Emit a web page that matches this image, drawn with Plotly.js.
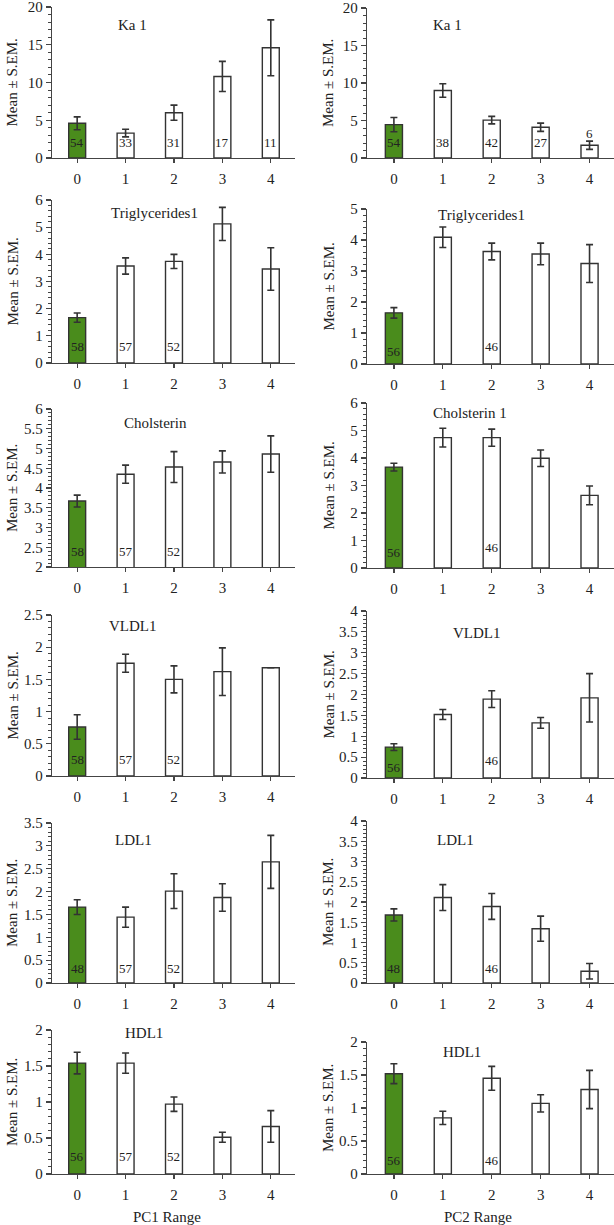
<!DOCTYPE html>
<html>
<head>
<meta charset="utf-8">
<script src="https://cdn.plot.ly/plotly-3.0.1.min.js"></script>
<style>html,body{margin:0;padding:0;background:#fff}#chart{width:614px;height:1225px}</style>
</head>
<body>
<div id="chart"></div>
<script>
// ---------- DATA ----------
const categories = [0, 1, 2, 3, 4];
const tickLabels = ["0", "1", "2", "3", "4"];
const xTitles = ["PC1 Range", "PC2 Range"];
const yTitle = "Mean ± S.EM.";

const titlesPC1 = ["Ka 1", "Triglycerides1", "Cholsterin", "VLDL1", "LDL1", "HDL1"];
const titlesPC2 = ["Ka 1", "Triglycerides1", "Cholsterin 1", "VLDL1", "LDL1", "HDL1"];

// PC1 column
const ka1PC1Mean = [4.6, 3.3, 6.0, 10.8, 14.6];
const ka1PC1Sem  = [0.85, 0.5, 1.0, 2.0, 3.7];
const ka1PC1N    = [54, 33, 31, 17, 11];

const trigPC1Mean = [1.67, 3.57, 3.74, 5.12, 3.46];
const trigPC1Sem  = [0.17, 0.3, 0.26, 0.61, 0.78];
const trigPC1N    = [58, 57, 52, null, null];

const cholPC1Mean = [3.67, 4.35, 4.53, 4.66, 4.86];
const cholPC1Sem  = [0.15, 0.23, 0.39, 0.28, 0.46];
const cholPC1N    = [58, 57, 52, null, null];

const vldlPC1Mean = [0.76, 1.75, 1.5, 1.62, 1.68];
const vldlPC1Sem  = [0.19, 0.14, 0.21, 0.37, null];
const vldlPC1N    = [58, 57, 52, null, null];

const ldlPC1Mean = [1.66, 1.44, 2.01, 1.87, 2.65];
const ldlPC1Sem  = [0.16, 0.22, 0.38, 0.3, 0.58];
const ldlPC1N    = [48, 57, 52, null, null];

const hdlPC1Mean = [1.54, 1.54, 0.97, 0.51, 0.66];
const hdlPC1Sem  = [0.15, 0.14, 0.1, 0.07, 0.22];
const hdlPC1N    = [56, 57, 52, null, null];

// PC2 column
const ka1PC2Mean = [4.45, 9.0, 5.05, 4.1, 1.7];
const ka1PC2Sem  = [0.95, 0.9, 0.5, 0.55, 0.55];
const ka1PC2N    = [54, 38, 42, 27, 6];

const trigPC2Mean = [1.65, 4.09, 3.63, 3.55, 3.24];
const trigPC2Sem  = [0.17, 0.33, 0.27, 0.35, 0.61];
const trigPC2N    = [56, null, 46, null, null];

const cholPC2Mean = [3.67, 4.74, 4.74, 3.99, 2.64];
const cholPC2Sem  = [0.14, 0.34, 0.31, 0.3, 0.34];
const cholPC2N    = [56, null, 46, null, null];

const vldlPC2Mean = [0.74, 1.52, 1.89, 1.32, 1.92];
const vldlPC2Sem  = [0.08, 0.12, 0.2, 0.13, 0.58];
const vldlPC2N    = [56, null, 46, null, null];

const ldlPC2Mean = [1.68, 2.11, 1.89, 1.34, 0.29];
const ldlPC2Sem  = [0.15, 0.32, 0.32, 0.31, 0.19];
const ldlPC2N    = [48, null, 46, null, null];

const hdlPC2Mean = [1.52, 0.85, 1.45, 1.07, 1.28];
const hdlPC2Sem  = [0.15, 0.1, 0.18, 0.13, 0.29];
const hdlPC2N    = [56, null, 46, null, null];

// ---------- LAYOUT CONFIG ----------
const W = 614, H = 1225;
const FONT = "'Liberation Serif', 'DejaVu Serif', serif";
const TXT = "#222";
const GREEN = "#4a8c1c";
const EDGE = "#333";

const colX = [[52, 295], [367, 614]];
const xRanges = [[-0.52, 4.5], [-0.55, 4.5]];
const yTitleX = [12, 328];

const panels = [
  {col:0, mean:ka1PC1Mean, sem:ka1PC1Sem, n:ka1PC1N, title:titlesPC1[0], box:[7,158], range:[0,20], dtick:5, minor:1, tx:0.33, ty:18, nY:[2,2,2,2,2]},
  {col:0, mean:trigPC1Mean, sem:trigPC1Sem, n:trigPC1N, title:titlesPC1[1], box:[200,363], range:[0,6], dtick:1, minor:0.2, tx:0.42, ty:13, nY:[0.59,0.59,0.59,0.59,0.59]},
  {col:0, mean:cholPC1Mean, sem:cholPC1Sem, n:cholPC1N, title:titlesPC1[2], box:[409,567], range:[2,6], dtick:0.5, minor:0.1, tx:0.425, ty:14, nY:[2.38,2.38,2.38,2.38,2.38]},
  {col:0, mean:vldlPC1Mean, sem:vldlPC1Sem, n:vldlPC1N, title:titlesPC1[3], box:[615,776], range:[0,2.5], dtick:0.5, minor:0.1, tx:0.335, ty:11, nY:[0.26,0.26,0.26,0.26,0.26]},
  {col:0, mean:ldlPC1Mean, sem:ldlPC1Sem, n:ldlPC1N, title:titlesPC1[4], box:[823,983], range:[0,3.5], dtick:0.5, minor:0.1, tx:0.335, ty:17, nY:[0.31,0.31,0.31,0.31,0.31]},
  {col:0, mean:hdlPC1Mean, sem:hdlPC1Sem, n:hdlPC1N, title:titlesPC1[5], box:[1030,1174], range:[0,2], dtick:0.5, minor:0.1, tx:0.38, ty:3, nY:[0.24,0.24,0.24,0.24,0.24]},
  {col:1, mean:ka1PC2Mean, sem:ka1PC2Sem, n:ka1PC2N, title:titlesPC2[0], box:[8,158], range:[0,20], dtick:5, minor:1, tx:0.325, ty:17, nY:[2,2,2,2,3.3]},
  {col:1, mean:trigPC2Mean, sem:trigPC2Sem, n:trigPC2N, title:titlesPC2[1], box:[209,364], range:[0,5], dtick:1, minor:0.2, tx:0.465, ty:6, nY:[0.39,0.55,0.55,0.55,0.55]},
  {col:1, mean:cholPC2Mean, sem:cholPC2Sem, n:cholPC2N, title:titlesPC2[2], box:[403,568], range:[0,6], dtick:1, minor:0.2, tx:0.415, ty:10, nY:[0.58,0.73,0.73,0.73,0.73]},
  {col:1, mean:vldlPC2Mean, sem:vldlPC2Sem, n:vldlPC2N, title:titlesPC2[3], box:[611,778], range:[0,4], dtick:0.5, minor:0.1, tx:0.445, ty:22, nY:[0.26,0.41,0.41,0.41,0.41]},
  {col:1, mean:ldlPC2Mean, sem:ldlPC2Sem, n:ldlPC2N, title:titlesPC2[4], box:[821,983], range:[0,4], dtick:0.5, minor:0.1, tx:0.36, ty:19, nY:[0.37,0.37,0.37,0.37,0.37]},
  {col:1, mean:hdlPC2Mean, sem:hdlPC2Sem, n:hdlPC2N, title:titlesPC2[5], box:[1042,1174], range:[0,2], dtick:0.5, minor:0.1, tx:0.385, ty:10, nY:[0.2,0.2,0.2,0.2,0.2]}
];

const data = [];
const layout = {
  width: W, height: H, autosize: false,
  margin: {l:0, r:0, t:0, b:0, pad:0},
  paper_bgcolor: "#fff", plot_bgcolor: "rgba(0,0,0,0)",
  showlegend: false,
  font: {family: FONT, color: TXT, size: 14},
  annotations: []
};

panels.forEach((p, i) => {
  const k = i + 1;
  const xa = "x" + (k === 1 ? "" : k), ya = "y" + (k === 1 ? "" : k);
  const xKey = "xaxis" + (k === 1 ? "" : k), yKey = "yaxis" + (k === 1 ? "" : k);
  const cx = colX[p.col];
  data.push({
    type: "bar", x: categories, y: p.mean, xaxis: xa, yaxis: ya,
    width: 0.35,
    marker: {color: categories.map(c => c === 0 ? GREEN : "#ffffff"), line: {color: EDGE, width: 1.4}},
    error_y: {type: "data", array: p.sem, visible: true, color: EDGE, thickness: 1.6, width: 3.5},
    hoverinfo: "none"
  });
  layout[xKey] = {
    domain: [cx[0] / W, cx[1] / W], anchor: ya,
    range: xRanges[p.col], tickvals: categories, ticktext: tickLabels,
    ticks: "outside", ticklen: 4, tickwidth: 1.2, tickcolor: "#444",
    showline: true, linecolor: "#444", linewidth: 1.3,
    showgrid: false, zeroline: false, fixedrange: true,
    tickfont: {family: FONT, size: 15, color: TXT}, ticklabelstandoff: 3,
    ticklabeloverflow: "allow"
  };
  layout[yKey] = {
    domain: [1 - p.box[1] / H, 1 - p.box[0] / H], anchor: xa,
    range: p.range, dtick: p.dtick, tick0: 0,
    ticks: "outside", ticklen: 5, tickwidth: 1.2, tickcolor: "#444",
    minor: {ticks: "outside", ticklen: 3, dtick: p.minor, tickcolor: "#444", tickwidth: 1},
    showline: true, linecolor: "#444", linewidth: 1.3,
    showgrid: false, zeroline: false, fixedrange: true,
    tickfont: {family: FONT, size: 15, color: TXT},
    ticklabeloverflow: "allow"
  };
  layout.annotations.push({
    text: p.title, xref: xa + " domain", yref: ya + " domain",
    x: p.tx, y: 1 - p.ty / (p.box[1] - p.box[0]), xanchor: "center", yanchor: "middle",
    showarrow: false, font: {family: FONT, size: 15, color: TXT}
  });
  layout.annotations.push({
    text: yTitle, xref: "paper", yref: ya + " domain",
    x: yTitleX[p.col] / W, y: 0.5, xanchor: "center", yanchor: "middle",
    textangle: -90, showarrow: false, font: {family: FONT, size: 15, color: TXT}
  });
  p.n.forEach((v, j) => {
    if (v === null) return;
    layout.annotations.push({
      text: String(v), xref: xa, yref: ya, x: categories[j], y: p.nY[j],
      xanchor: "center", yanchor: "middle", showarrow: false,
      font: {family: FONT, size: 13, color: TXT}
    });
  });
});

[0, 1].forEach(c => {
  layout.annotations.push({
    text: xTitles[c], xref: "paper", yref: "paper",
    x: (c === 0 ? 167 : 478) / W, y: 1 - 1217 / H, xanchor: "center", yanchor: "middle",
    showarrow: false, font: {family: FONT, size: 15, color: TXT}
  });
});

Plotly.newPlot("chart", data, layout, {staticPlot: true, displayModeBar: false});
</script>
</body>
</html>
